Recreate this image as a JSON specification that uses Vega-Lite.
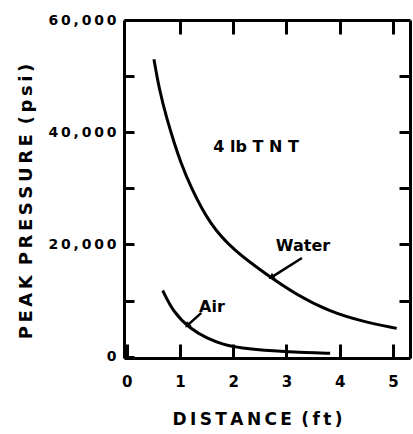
{
  "$schema": "https://vega.github.io/schema/vega-lite/v6.json",
  "autosize": "none",
  "padding": {"left": 124, "top": 20, "right": 3, "bottom": 76},
  "width": 286,
  "height": 338,
  "background": "white",
  "config": {
    "view": {"stroke": null},
    "font": "DejaVu Sans",
    "axis": {
      "domainColor": "black",
      "domainWidth": 3,
      "tickColor": "black",
      "tickWidth": 3,
      "grid": false,
      "labelColor": "black",
      "labelFont": "DejaVu Sans",
      "labelFontWeight": "bold",
      "titleColor": "black",
      "titleFont": "DejaVu Sans",
      "titleFontWeight": "bold"
    }
  },
  "datasets": {
    "curves": [
      {"series": "Water", "distance": 0.51, "pressure": 53000},
      {"series": "Water", "distance": 0.61, "pressure": 47600},
      {"series": "Water", "distance": 0.75, "pressure": 42500},
      {"series": "Water", "distance": 0.9, "pressure": 37800},
      {"series": "Water", "distance": 1.0, "pressure": 35000},
      {"series": "Water", "distance": 1.2, "pressure": 30200},
      {"series": "Water", "distance": 1.56, "pressure": 23600},
      {"series": "Water", "distance": 2.0, "pressure": 19000},
      {"series": "Water", "distance": 2.6, "pressure": 14800},
      {"series": "Water", "distance": 3.19, "pressure": 11000},
      {"series": "Water", "distance": 3.82, "pressure": 8000},
      {"series": "Water", "distance": 4.44, "pressure": 6250},
      {"series": "Water", "distance": 5.07, "pressure": 5050},
      {"series": "Air", "distance": 0.675, "pressure": 11800},
      {"series": "Air", "distance": 0.875, "pressure": 7900},
      {"series": "Air", "distance": 1.19, "pressure": 5000},
      {"series": "Air", "distance": 1.5, "pressure": 3290},
      {"series": "Air", "distance": 1.81, "pressure": 2150},
      {"series": "Air", "distance": 2.13, "pressure": 1550},
      {"series": "Air", "distance": 2.75, "pressure": 1020},
      {"series": "Air", "distance": 3.38, "pressure": 720},
      {"series": "Air", "distance": 3.82, "pressure": 610}
    ],
    "labels": [
      {"label": "4 lb  T N T", "distance": 2.43, "pressure": 37300},
      {"label": "Water", "distance": 3.31, "pressure": 19800},
      {"label": "Air", "distance": 1.6, "pressure": 8900}
    ],
    "arrows": [
      {"kind": "Water", "distance": 3.29, "pressure": 17600, "distance2": 2.73, "pressure2": 14230},
      {"kind": "Air", "distance": 1.4, "pressure": 7800, "distance2": 1.15, "pressure2": 5660}
    ]
  },
  "resolve": {"axis": {"x": "independent", "y": "independent"}},
  "layer": [
    {
      "data": {"name": "curves"},
      "mark": {"type": "line", "color": "black", "strokeWidth": 3, "interpolate": "basis", "clip": false},
      "encoding": {
        "x": {
          "field": "distance", "type": "quantitative",
          "scale": {"domain": [-0.052, 5.32], "nice": false, "zero": false},
          "axis": {
            "orient": "bottom",
            "values": [0, 1, 2, 3, 4, 5],
            "tickSize": -14,
            "labelPadding": 30,
            "labelFontSize": 15,
            "labelFlush": false,
            "title": "D\u2009I\u2009S\u2009T\u2009A\u2009N\u2009C\u2009E\u2009 (\u2009f\u2009t\u2009)",
            "titleFontSize": 17,
            "titlePadding": 22,
            "titleX": 133
          }
        },
        "y": {
          "field": "pressure", "type": "quantitative",
          "scale": {"domain": [-230, 60000], "nice": false, "zero": false},
          "axis": {
            "orient": "left",
            "values": [0, 10000, 20000, 30000, 40000, 50000, 60000],
            "tickSize": -10,
            "labelPadding": 18,
            "labelFontSize": 14,
            "labelFlush": false,
            "labelExpr": "datum.value % 20000 == 0 ? join(split(format(datum.value, ','), ''), '\u2009') : ''",
            "title": "P\u2009E\u2009A\u2009K\u2009 P\u2009R\u2009E\u2009S\u2009S\u2009U\u2009R\u2009E\u2009 (\u2009p\u2009s\u2009i\u2009)",
            "titleFontSize": 18,
            "titlePadding": 12,
            "titleY": 181
          }
        },
        "detail": {"field": "series"}
      }
    },
    {
      "data": {"name": "labels"},
      "mark": {"type": "text", "font": "DejaVu Sans", "fontWeight": "bold", "fontSize": 16, "color": "black", "align": "center", "baseline": "middle"},
      "encoding": {
        "x": {
          "field": "distance", "type": "quantitative",
          "axis": {"orient": "top", "values": [1, 2, 3, 4, 5], "labels": false, "title": null, "tickSize": -14}
        },
        "y": {
          "field": "pressure", "type": "quantitative",
          "axis": {"orient": "right", "values": [10000, 20000, 30000, 40000, 50000], "labels": false, "title": null, "tickSize": -11}
        },
        "text": {"field": "label"}
      }
    },
    {
      "data": {"name": "arrows"},
      "mark": {"type": "rule", "color": "black", "strokeWidth": 2.5},
      "encoding": {
        "x": {"field": "distance", "type": "quantitative", "axis": null},
        "y": {"field": "pressure", "type": "quantitative", "axis": null},
        "x2": {"field": "distance2"},
        "y2": {"field": "pressure2"}
      }
    },
    {
      "data": {"name": "arrows"},
      "transform": [{"filter": "datum.kind == 'Water'"}],
      "mark": {"type": "point", "shape": "triangle", "filled": true, "color": "black", "size": 50, "angle": 238, "opacity": 1},
      "encoding": {
        "x": {"field": "distance2", "type": "quantitative", "axis": null},
        "y": {"field": "pressure2", "type": "quantitative", "axis": null}
      }
    },
    {
      "data": {"name": "arrows"},
      "transform": [{"filter": "datum.kind == 'Air'"}],
      "mark": {"type": "point", "shape": "triangle", "filled": true, "color": "black", "size": 45, "angle": 227, "opacity": 1},
      "encoding": {
        "x": {"field": "distance2", "type": "quantitative", "axis": null},
        "y": {"field": "pressure2", "type": "quantitative", "axis": null}
      }
    }
  ]
}
